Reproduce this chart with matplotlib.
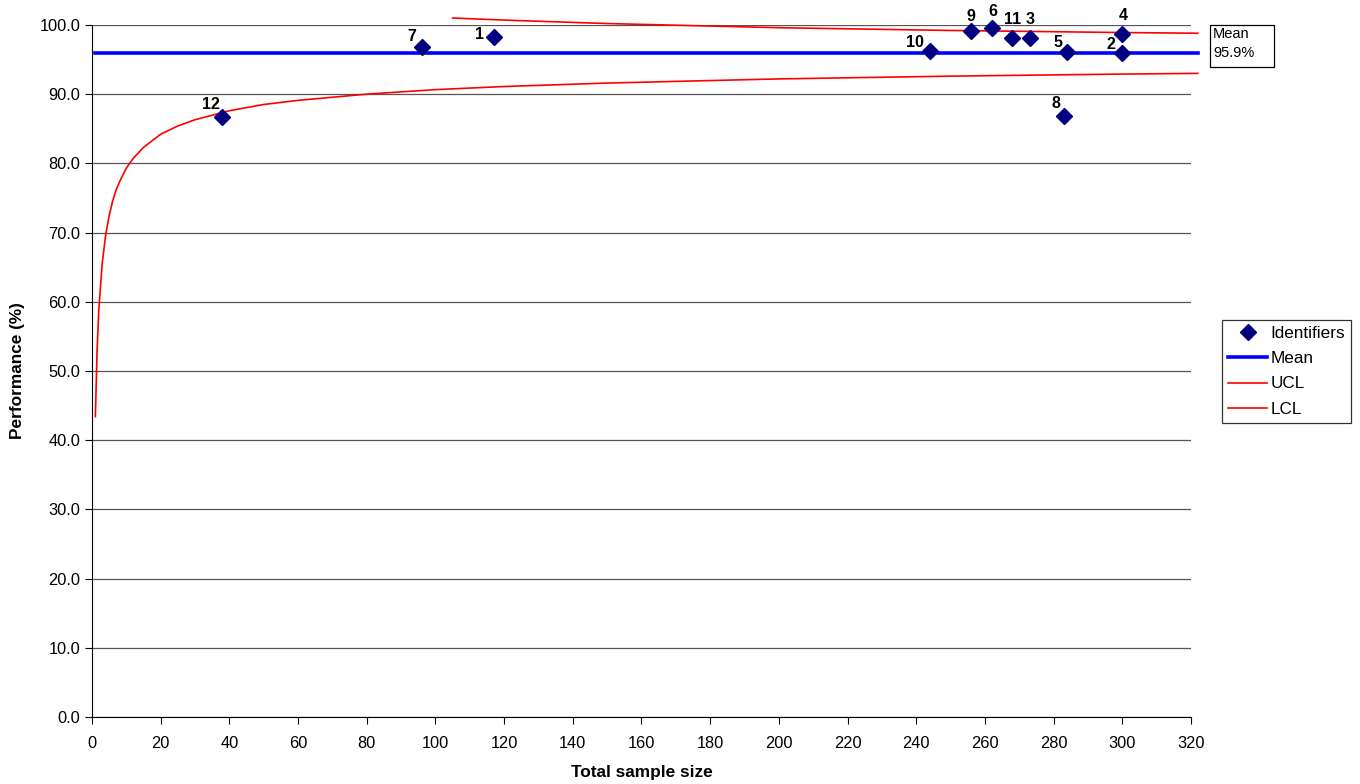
import numpy as np
import matplotlib.pyplot as plt
from matplotlib.patches import Rectangle

plt.rcParams['font.family'] = ['Liberation Sans', 'DejaVu Sans']

# identifiers: sample size vs performance (%)
ids = ['1', '2', '3', '4', '5', '6', '7', '8', '9', '10', '11', '12']
size = [117, 300, 273, 300, 284, 262, 96, 283, 256, 244, 268, 38]
perf = [98.3, 96.0, 98.1, 98.7, 96.1, 99.6, 96.8, 86.9, 99.1, 96.2, 98.1, 86.7]

mean_val = 95.9

# control limits
lcl_n = [1, 1.5, 2, 3, 4, 5, 6, 7, 8, 10, 12, 15, 20, 25, 30, 40, 50, 60, 80,
         100, 120, 150, 200, 250, 300, 322]
lcl_v = [43.4, 53.0, 58.8, 65.6, 69.65, 72.4, 74.5, 76.1, 77.3, 79.3, 80.7, 82.3,
         84.2, 85.4, 86.3, 87.6, 88.5, 89.1, 90.0, 90.65, 91.1, 91.6, 92.2, 92.6,
         92.9, 93.0]
ucl_n = [105, 120, 150, 200, 250, 300, 322]
ucl_v = [101.0, 100.7, 100.2, 99.6, 99.2, 98.9, 98.8]

# label offsets in points (dx, dy) from each marker
offs = [(-10, 1.4), (-8, 5.8), (0.7, 13.7), (0.7, 13), (-6.5, 6.5), (0.7, 11.5),
        (-7.2, 7.5), (-5.8, 8.6), (0, 10.8), (-10.8, 6.5), (0, 13.7), (-8.5, 8.8)]

fig = plt.figure(figsize=(13.6, 7.84), dpi=100)
ax = fig.add_axes([0.0676, 0.0855, 0.8081, 0.8827])

ax.set_xlim(0, 320)
ax.set_ylim(0, 100)
ax.set_xticks(np.arange(0, 321, 20))
ax.set_yticks(np.arange(0, 101, 10))
ax.set_yticklabels(['%.1f' % v for v in np.arange(0, 101, 10)])
ax.yaxis.grid(True, color='#555555', lw=0.9)
ax.set_axisbelow(True)
for s in ['top', 'right']:
    ax.spines[s].set_visible(False)
ax.tick_params(direction='out', length=5, labelsize=11.8, colors='black')
ax.tick_params(axis='x', pad=9)

ax.plot([1, 322], [mean_val, mean_val], color='#0000ff', lw=2.6, label='Mean',
        clip_on=False, zorder=3)
ax.plot(ucl_n, ucl_v, color='#ff0000', lw=1.2, label='UCL', clip_on=False, zorder=2)
ax.plot(lcl_n, lcl_v, color='#ff0000', lw=1.2, label='LCL', clip_on=False, zorder=2)
ax.plot(size, perf, 'D', color='#000080', ms=8, label='Identifiers', zorder=4,
        clip_on=False)

for i, lab in enumerate(ids):
    ax.annotate(lab, (size[i], perf[i]), xytext=offs[i], textcoords='offset points',
                ha='center', va='center', fontsize=11.5, fontweight='bold')

ax.set_xlabel('Total sample size', fontsize=12.4, fontweight='bold', labelpad=10)
ax.set_ylabel('Performance (%)', fontsize=12.4, fontweight='bold', labelpad=10)

# mean value box
fig.add_artist(Rectangle((1210 / 1360, 1 - 67 / 784), 64 / 1360, 42 / 784,
                         transform=fig.transFigure, fc='white', ec='black', lw=0.9))
fig.text(1213 / 1360, 1 - 34 / 784, 'Mean', fontsize=10.5, va='center', ha='left')
fig.text(1213 / 1360, 1 - 53 / 784, '95.9%', fontsize=10.5, va='center', ha='left')

h, l = ax.get_legend_handles_labels()
order = [3, 0, 1, 2]
leg = fig.legend([h[k] for k in order], [l[k] for k in order],
                 loc='upper left', bbox_to_anchor=(1222 / 1360, 1 - 320 / 784),
                 fontsize=12.3, frameon=True, fancybox=False, edgecolor='black',
                 handlelength=2.3, handletextpad=0.2, borderpad=0.35,
                 labelspacing=0.6, borderaxespad=0)
leg.get_frame().set_linewidth(0.9)

fig.savefig('out.png', dpi=100)
